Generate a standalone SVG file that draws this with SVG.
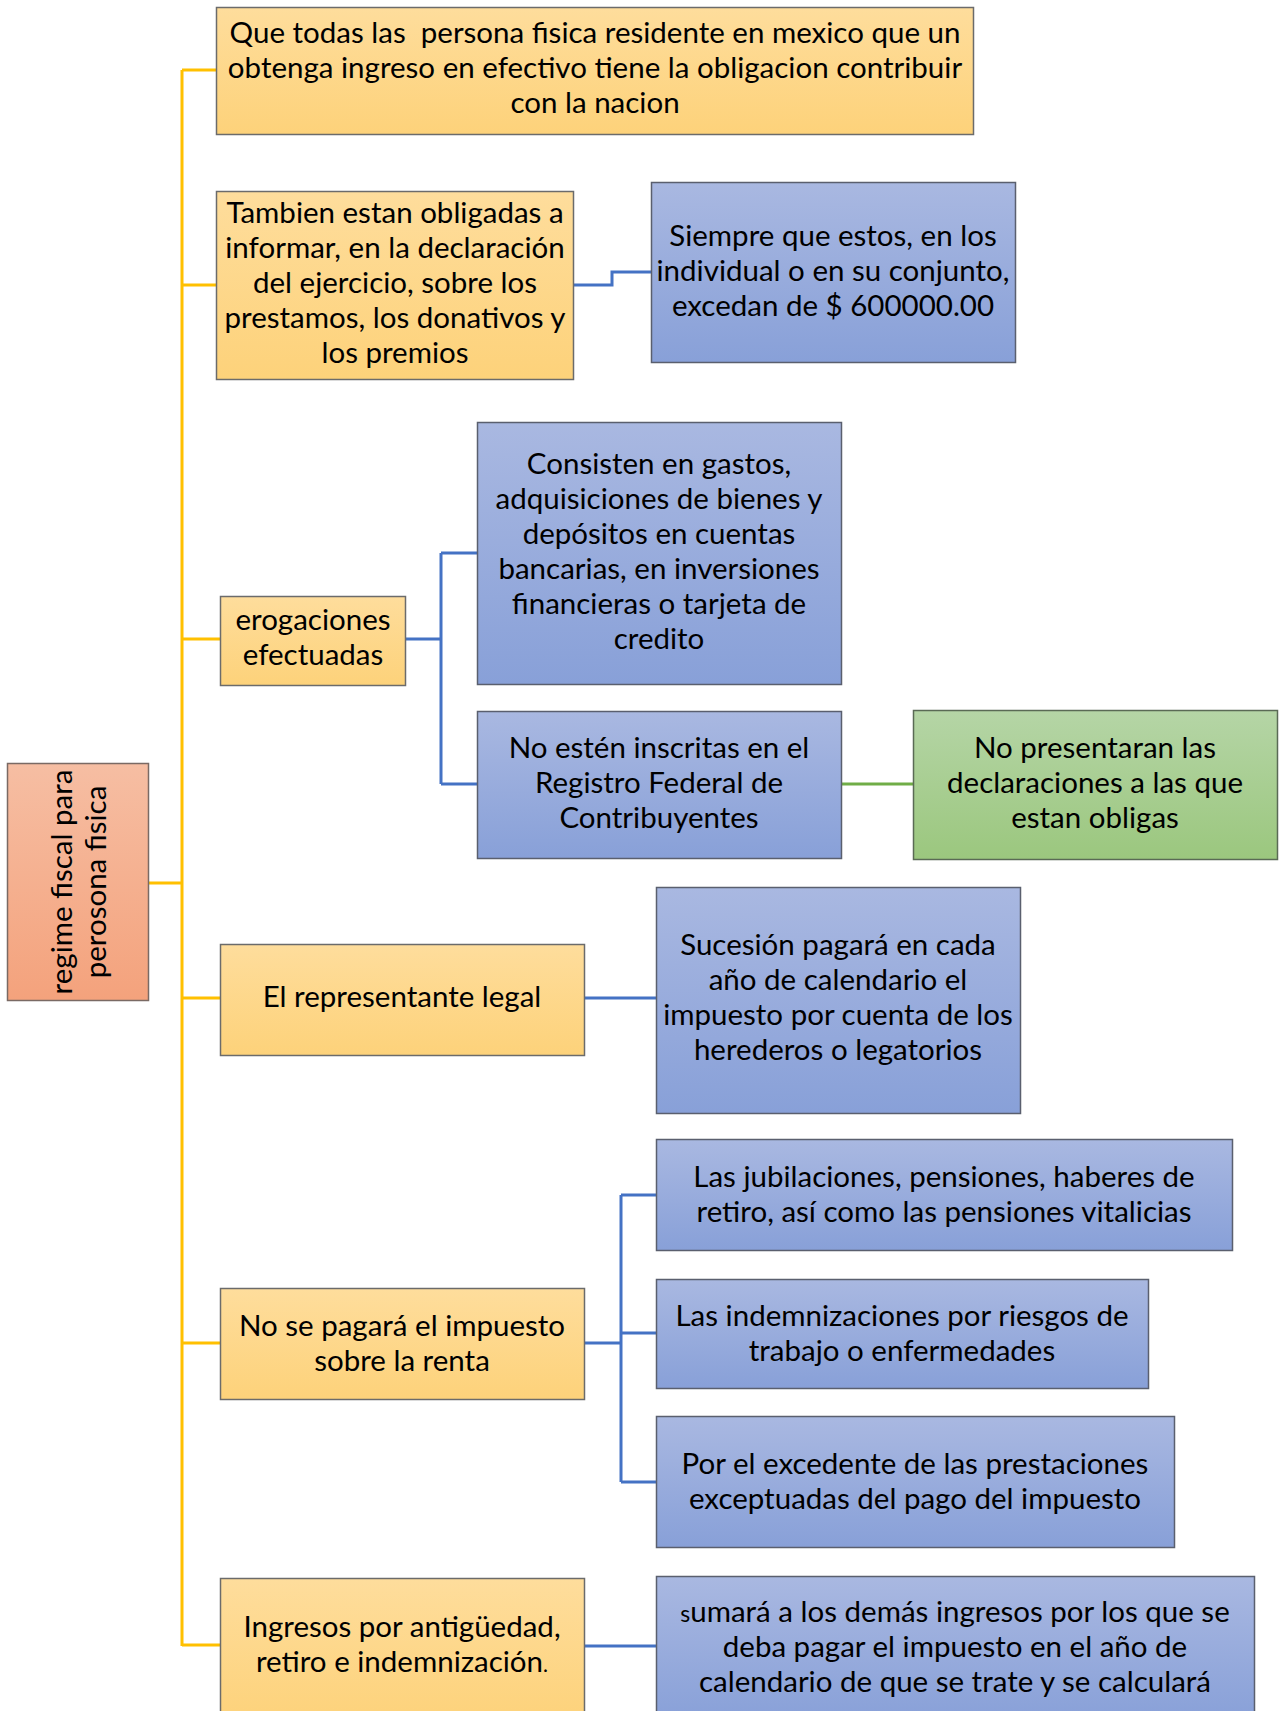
<svg xmlns="http://www.w3.org/2000/svg" width="1282" height="1711" viewBox="0 0 1282 1711">
<defs>
<linearGradient id="gy" x1="0" y1="0" x2="0" y2="1"><stop offset="0" stop-color="#fedd9c"/><stop offset="1" stop-color="#fdd27a"/></linearGradient>
<linearGradient id="gb" x1="0" y1="0" x2="0" y2="1"><stop offset="0" stop-color="#a9b8e1"/><stop offset="1" stop-color="#88a0d8"/></linearGradient>
<linearGradient id="gg" x1="0" y1="0" x2="0" y2="1"><stop offset="0" stop-color="#b5d5a6"/><stop offset="1" stop-color="#9bc77e"/></linearGradient>
<linearGradient id="go" x1="0" y1="0" x2="0" y2="1"><stop offset="0" stop-color="#f6bea3"/><stop offset="1" stop-color="#f4a27c"/></linearGradient>
</defs>
<style>
.y{fill:url(#gy);stroke:#6b6b6b;stroke-width:1.5}
.b{fill:url(#gb);stroke:#5a5f6e;stroke-width:1.5}
.g{fill:url(#gg);stroke:#5a6a55;stroke-width:1.5}
.o{fill:url(#go);stroke:#7a6a64;stroke-width:1.5}
text{font-family:Lato,"Liberation Sans",sans-serif;font-size:29.5px;fill:#000;text-anchor:middle}
.cy{stroke:#ffc000;stroke-width:3;fill:none}
.cb{stroke:#4472c4;stroke-width:3;fill:none}
.cg{stroke:#70ad47;stroke-width:3;fill:none}
</style>
<g id="connectors">
<path class="cy" d="M148 883H182M182 70V1646M182 70H216M182 285H216M182 639H220M182 998H220M182 1343H220M182 1645H220"/>
<path class="cb" d="M573 285H612V272H651"/>
<path class="cb" d="M405 639H441M441 553V784M441 553H477M441 784H477"/>
<path class="cg" d="M841 784H913"/>
<path class="cb" d="M584 998H656"/>
<path class="cb" d="M584 1343H621M621 1195V1482M621 1195H656M621 1333H656M621 1482H656"/>
<path class="cb" d="M584 1646H656"/>
</g>
<g id="root">
<rect class="o" x="7.5" y="763.5" width="141" height="237"/>
<text transform="translate(79,882) rotate(-90)"><tspan x="0" y="-7">regime fiscal para</tspan><tspan x="0" y="27">perosona fisica</tspan></text>
</g>
<g id="n1">
<rect class="y" x="216.5" y="7.5" width="757" height="127"/>
<text xml:space="preserve"><tspan x="595" y="43">Que todas las  persona fisica residente en mexico que un</tspan><tspan x="595" y="78">obtenga ingreso en efectivo tiene la obligacion contribuir</tspan><tspan x="595" y="113">con la nacion</tspan></text>
</g>
<g id="n2">
<rect class="y" x="216.5" y="191.5" width="357" height="188"/>
<text><tspan x="395" y="223">Tambien estan obligadas a</tspan><tspan x="395" y="258">informar, en la declaración</tspan><tspan x="395" y="293">del ejercicio, sobre los</tspan><tspan x="395" y="328">prestamos, los donativos y</tspan><tspan x="395" y="363">los premios</tspan></text>
</g>
<g id="n3">
<rect class="b" x="651.5" y="182.5" width="364" height="180"/>
<text><tspan x="833" y="246">Siempre que estos, en los</tspan><tspan x="833" y="281">individual o en su conjunto,</tspan><tspan x="833" y="316">excedan de $ 600000.00</tspan></text>
</g>
<g id="n4">
<rect class="y" x="220.5" y="596.5" width="185" height="89"/>
<text><tspan x="313" y="630">erogaciones</tspan><tspan x="313" y="665">efectuadas</tspan></text>
</g>
<g id="n5">
<rect class="b" x="477.5" y="422.5" width="364" height="262"/>
<text><tspan x="659" y="474">Consisten en gastos,</tspan><tspan x="659" y="509">adquisiciones de bienes y</tspan><tspan x="659" y="544">depósitos en cuentas</tspan><tspan x="659" y="579">bancarias, en inversiones</tspan><tspan x="659" y="614">financieras o tarjeta de</tspan><tspan x="659" y="649">credito</tspan></text>
</g>
<g id="n6">
<rect class="b" x="477.5" y="711.5" width="364" height="147"/>
<text><tspan x="659" y="758">No estén inscritas en el</tspan><tspan x="659" y="793">Registro Federal de</tspan><tspan x="659" y="828">Contribuyentes</tspan></text>
</g>
<g id="n7">
<rect class="g" x="913.5" y="710.5" width="364" height="149"/>
<text><tspan x="1095" y="758">No presentaran las</tspan><tspan x="1095" y="793">declaraciones a las que</tspan><tspan x="1095" y="828">estan obligas</tspan></text>
</g>
<g id="n8">
<rect class="y" x="220.5" y="944.5" width="364" height="111"/>
<text><tspan x="402" y="1007">El representante legal</tspan></text>
</g>
<g id="n9">
<rect class="b" x="656.5" y="887.5" width="364" height="226"/>
<text><tspan x="838" y="955">Sucesión pagará en cada</tspan><tspan x="838" y="990">año de calendario el</tspan><tspan x="838" y="1025">impuesto por cuenta de los</tspan><tspan x="838" y="1060">herederos o legatorios</tspan></text>
</g>
<g id="n10">
<rect class="y" x="220.5" y="1288.5" width="364" height="111"/>
<text><tspan x="402" y="1336">No se pagará el impuesto</tspan><tspan x="402" y="1371">sobre la renta</tspan></text>
</g>
<g id="n11">
<rect class="b" x="656.5" y="1139.5" width="576" height="111"/>
<text><tspan x="944" y="1187">Las jubilaciones, pensiones, haberes de</tspan><tspan x="944" y="1222">retiro, así como las pensiones vitalicias</tspan></text>
</g>
<g id="n12">
<rect class="b" x="656.5" y="1279.5" width="492" height="109"/>
<text><tspan x="902" y="1326">Las indemnizaciones por riesgos de</tspan><tspan x="902" y="1361">trabajo o enfermedades</tspan></text>
</g>
<g id="n13">
<rect class="b" x="656.5" y="1416.5" width="518" height="131"/>
<text><tspan x="915" y="1474">Por el excedente de las prestaciones</tspan><tspan x="915" y="1509">exceptuadas del pago del impuesto</tspan></text>
</g>
<g id="n14">
<rect class="y" x="220.5" y="1578.5" width="364" height="145"/>
<text><tspan x="402" y="1637">Ingresos por antigüedad,</tspan><tspan x="402" y="1672">retiro e indemnización<tspan font-size="21">.</tspan></tspan></text>
</g>
<g id="n15">
<rect class="b" x="656.5" y="1576.5" width="598" height="145"/>
<text><tspan x="955" y="1622"><tspan font-size="23">s</tspan>umará a los demás ingresos por los que se</tspan><tspan x="955" y="1657">deba pagar el impuesto en el año de</tspan><tspan x="955" y="1692">calendario de que se trate y se calculará</tspan></text>
</g>
</svg>
